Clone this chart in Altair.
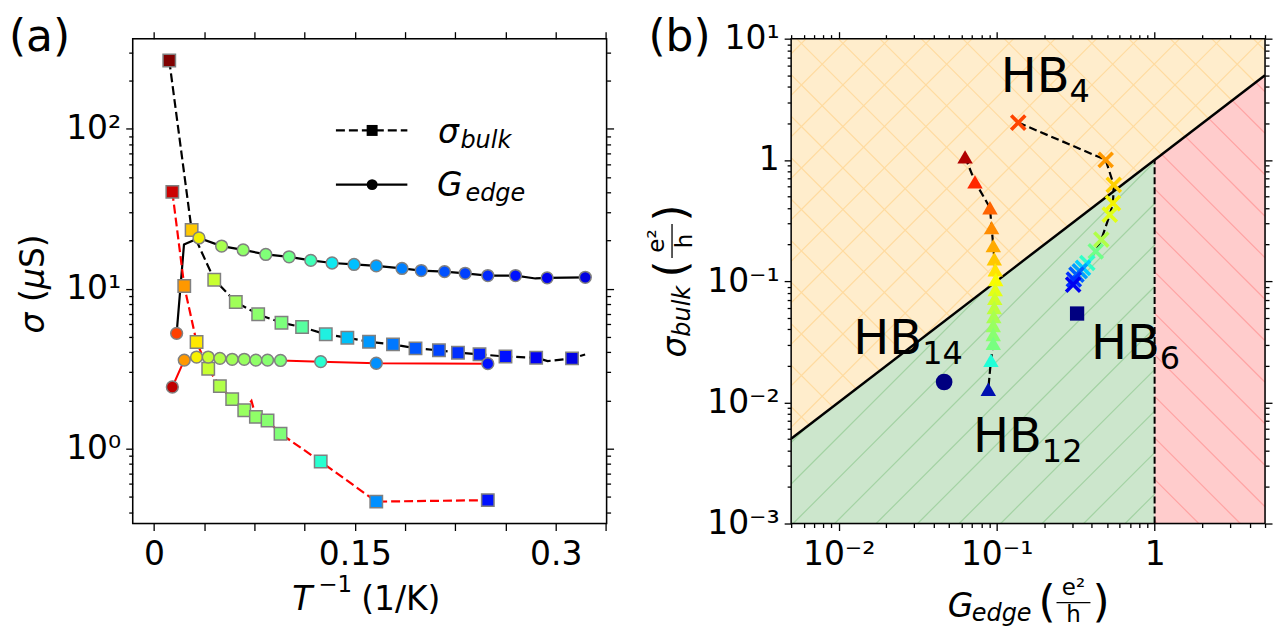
import altair as alt
import numpy as np
import pandas as pd

FONT = "DejaVu Sans"

# ======================= panel (a) data =======================
a_bulk1_x = [0.0114, 0.0281, 0.0450, 0.0611, 0.0778, 0.0952, 0.1106, 0.1283, 0.1444,
             0.1606, 0.1785, 0.1953, 0.2128, 0.2270, 0.2431, 0.2625, 0.2854, 0.3122]
a_bulk1_y = [268.0, 23.3, 11.4, 8.26, 6.92, 6.13, 5.76, 5.19, 4.94,
             4.66, 4.49, 4.24, 4.12, 3.98, 3.89, 3.77, 3.70, 3.67]
a_bulk1_c = ["#800000", "#FFC800", "#C8FF30", "#A0FF58", "#8CFF6C", "#7CFF7C", "#58FFA0", "#20F0E0", "#00C0F8",
             "#0098FF", "#0078FF", "#0058FF", "#0044FF", "#0030FF", "#0020FF", "#0010FF", "#0000F4", "#0000E4"]
a_bulk1_path_x = [0.2940, 0.3220]
a_bulk1_path_y = [3.53, 3.88]

a_edge1_x = [0.0169, 0.0336, 0.0505, 0.0666, 0.0835, 0.1009, 0.1171, 0.1330, 0.1494,
             0.1660, 0.1852, 0.1996, 0.2170, 0.2324, 0.2493, 0.2700, 0.2936, 0.3221]
a_edge1_y = [5.26, 20.8, 18.5, 17.5, 16.4, 15.85, 15.05, 14.5, 14.2,
             13.9, 13.4, 13.0, 12.8, 12.5, 12.1, 12.1, 11.7, 11.8]
a_edge1_c = ["#FF4000", "#F0F000", "#A8FF50", "#90FF68", "#80FF78", "#70FF88", "#40FFB8", "#10E8F0", "#00C0FF",
             "#00A0FF", "#0080FF", "#0068FF", "#0050FF", "#0040FF", "#0028FF", "#0010FF", "#0000F0", "#0000E0"]
a_edge1_path_x = [0.0224, 0.2849]
a_edge1_path_y = [18.9, 11.6]

a_bulk2_x = [0.0137, 0.0226, 0.0318, 0.0405, 0.0492, 0.0584, 0.0674, 0.0761, 0.0848, 0.0945, 0.1245, 0.1660, 0.2493]
a_bulk2_y = [40.4, 10.4, 4.64, 3.16, 2.46, 2.04, 1.74, 1.58, 1.50, 1.24, 0.83, 0.466, 0.476]
a_bulk2_c = ["#CC0000", "#FF9800", "#FFE800", "#C8FF30", "#B0FF48", "#A0FF58", "#98FF60", "#90FF68",
             "#88FF70", "#80FF78", "#28FFD0", "#0090FF", "#0010FF"]
a_bulk2_path_x = [0.0728]
a_bulk2_path_y = [1.99]

a_edge2_x = [0.0137, 0.0226, 0.0318, 0.0405, 0.0492, 0.0584, 0.0674, 0.0761, 0.0848, 0.0945, 0.1245, 0.1660, 0.2493]
a_edge2_y = [2.43, 3.58, 3.74, 3.74, 3.67, 3.62, 3.62, 3.58, 3.58, 3.56, 3.50, 3.42, 3.40]
a_edge2_c = ["#C00000", "#FF9800", "#F8F000", "#C8FF30", "#B0FF48", "#A0FF58", "#98FF60", "#90FF68",
             "#88FF70", "#80FF78", "#28FFD0", "#0090FF", "#0010FF"]

a_xdomain = [-0.0159, 0.338]
a_ydomain = [0.34, 367.0]
a_xticks = [0, 0.0375, 0.075, 0.1125, 0.15, 0.1875, 0.225, 0.2625, 0.3, 0.3375]
a_xlabel_vals = [0, 0.15, 0.3]
a_xlabel_txt = ["0", "0.15", "0.3"]
a_ymajor = [1, 10, 100]
a_ylabel_txt = ["10\u2070", "10\u00b9", "10\u00b2"]
a_yminor = [0.4, 0.5, 0.6, 0.7, 0.8, 0.9, 2, 3, 4, 5, 6, 7, 8, 9,
            20, 30, 40, 50, 60, 70, 80, 90, 200, 300]

# ======================= panel (b) data =======================
b_tri_x = [0.0631, 0.0729, 0.0907, 0.0929, 0.0952, 0.0966, 0.0980, 0.0987, 0.0980,
           0.0973, 0.0966, 0.0959, 0.0952, 0.0952, 0.0952, 0.0920, 0.0885]
b_tri_y = [1.059, 0.659, 0.403, 0.276, 0.196, 0.153, 0.124, 0.103, 0.085,
           0.072, 0.0605, 0.051, 0.043, 0.0363, 0.0306, 0.0222, 0.0128]
b_tri_c = ["#B00000", "#FF2800", "#FF6400", "#FF8C00", "#FFAA00", "#FFC800", "#FFE400", "#F8FC00", "#E4FF14",
           "#D0FF28", "#BCFF3C", "#A8FF50", "#98FF60", "#88FF70", "#78FF80", "#20FFD8", "#0010B0"]

b_cross_x = [0.137, 0.490, 0.551, 0.545, 0.520, 0.460, 0.424, 0.375, 0.352, 0.336, 0.320, 0.308, 0.305]
b_cross_y = [2.03, 1.00, 0.622, 0.440, 0.353, 0.220, 0.176, 0.141, 0.1285, 0.1205, 0.113, 0.103, 0.0935]
b_cross_c = ["#FF4400", "#FF9900", "#FFD000", "#F4F400", "#E0FF18", "#B0FF48", "#70FF88", "#30FFC8",
             "#00D0FF", "#00A0FF", "#0060FF", "#0030FF", "#0000F0"]

b_hb14_x, b_hb14_y = [0.0465], [0.0147]
b_hb6_x, b_hb6_y = [0.323], [0.054]

b_xdomain = [0.005, 5.0]
b_ydomain = [0.001, 10.0]
b_qhe = 1.0                      # G_edge = e^2/h boundary
b_xmajor = [0.01, 0.1, 1.0]
b_xlabel_txt = ["10\u207b\u00b2", "10\u207b\u00b9", "1"]
b_xminor = [0.005, 0.006, 0.007, 0.008, 0.009, 0.02, 0.03, 0.04, 0.05, 0.06, 0.07, 0.08, 0.09,
            0.2, 0.3, 0.4, 0.5, 0.6, 0.7, 0.8, 0.9, 2.0, 3.0, 4.0, 5.0]
b_ymajor = [0.001, 0.01, 0.1, 1.0, 10.0]
b_ylabel_txt = ["10\u207b\u00b3", "10\u207b\u00b2", "10\u207b\u00b9", "1", "10\u00b9"]
b_yminor = [float(f"{m}e{k}") for k in (-3, -2, -1, 0) for m in range(2, 10)]

W, H = 475, 486
LEFT = -124          # left edge of the figure relative to panel (a)
one = pd.DataFrame({"k": [0]})


def make_axis(orient, values, majors=None, label_vals=None, label_txt=None, pad=5):
    kw = dict(orient=orient, values=values, grid=False, domain=False, title=None,
              tickColor="black", tickWidth=1.3, labels=label_vals is not None)
    if majors is None:
        kw["tickSize"] = 7
    else:
        test = " || ".join(f"datum.value == {m!r}" for m in majors)
        kw["tickSize"] = {"condition": {"test": test, "value": 7}, "value": 4}
    if label_vals is not None:
        expr = "''"
        for v, t in zip(label_vals[::-1], label_txt[::-1]):
            expr = f"datum.value == {v!r} ? '{t}' : ({expr})"
        kw.update(labelExpr=expr, labelFont=FONT, labelFontSize=33, labelColor="black",
                  labelPadding=pad, labelOverlap=False, labelFlush=False, labelBound=False)
    return alt.Axis(**kw)


def txt(s, x, y, size, italic=False, align="left", angle=0):
    kw = dict(text=s, font=FONT, fontSize=size, align=align, baseline="alphabetic", color="black")
    if italic:
        kw["fontStyle"] = "italic"
    if angle:
        kw["angle"] = angle
    return alt.Chart(one).mark_text(**kw).encode(x=alt.value(x), y=alt.value(y))


def frame():
    return alt.Chart(one).mark_rect(fillOpacity=0, stroke="black", strokeWidth=1.5).encode(
        x=alt.value(0), x2=alt.value(W), y=alt.value(0), y2=alt.value(H))


# ======================= panel (a) =======================
xs_a = alt.Scale(domain=a_xdomain, nice=False, zero=False)
ys_a = alt.Scale(type="log", domain=a_ydomain, nice=False)
dummy_a = pd.DataFrame({"x": [0.1], "y": [1.0]})

a_layers = []
a_layers.append(alt.Chart(dummy_a).mark_point(opacity=0).encode(
    x=alt.X("x:Q", scale=xs_a, axis=make_axis("bottom", a_xticks, None, a_xlabel_vals, a_xlabel_txt, pad=8)),
    y=alt.Y("y:Q", scale=ys_a, axis=make_axis("left", sorted(a_ymajor + a_yminor), a_ymajor, a_ymajor, a_ylabel_txt, pad=5))))
a_layers.append(alt.Chart(dummy_a).mark_point(opacity=0).encode(
    x=alt.X("x:Q", scale=xs_a, axis=make_axis("top", a_xticks)),
    y=alt.Y("y:Q", scale=ys_a, axis=make_axis("right", sorted(a_ymajor + a_yminor), a_ymajor))))
# invisible anchor fixing the top-left corner of the figure
a_layers.append(alt.Chart(one).mark_rule(opacity=0, strokeWidth=0.01).encode(
    x=alt.value(LEFT), x2=alt.value(LEFT + 1), y=alt.value(-29), y2=alt.value(-28)))


def line_layer(xs, ys, ex, ey, color, dash, width, xs_s, ys_s):
    df = pd.DataFrame({"x": xs + ex, "y": ys + ey})
    kw = dict(color=color, strokeWidth=width)
    if dash:
        kw["strokeDash"] = dash
    return alt.Chart(df).mark_line(**kw).encode(
        x=alt.X("x:Q", scale=xs_s, axis=None), y=alt.Y("y:Q", scale=ys_s, axis=None), order="x:Q")


def marker_layer(xs, ys, cs, shape, size, xs_s, ys_s, stroke=None):
    df = pd.DataFrame({"x": xs, "y": ys, "c": cs})
    kw = dict(shape=shape, size=size, filled=True, opacity=1)
    if stroke:
        kw.update(stroke=stroke, strokeWidth=1.5)
    return alt.Chart(df).mark_point(**kw).encode(
        x=alt.X("x:Q", scale=xs_s, axis=None), y=alt.Y("y:Q", scale=ys_s, axis=None),
        fill=alt.Fill("c:N", scale=None))


def xmark_layer(xs, ys, cs, size, xs_s, ys_s):
    df = pd.DataFrame({"x": xs, "y": ys, "c": cs})
    return alt.Chart(df).mark_point(shape="M-1,-1L1,1M-1,1L1,-1", size=size, filled=False,
                                    strokeWidth=3.6, opacity=1).encode(
        x=alt.X("x:Q", scale=xs_s, axis=None), y=alt.Y("y:Q", scale=ys_s, axis=None),
        stroke=alt.Stroke("c:N", scale=None))


a_layers += [
    line_layer(a_bulk1_x, a_bulk1_y, a_bulk1_path_x, a_bulk1_path_y, "black", [9, 4], 2.2, xs_a, ys_a),
    line_layer(a_edge1_x, a_edge1_y, a_edge1_path_x, a_edge1_path_y, "black", None, 2.2, xs_a, ys_a),
    line_layer(a_bulk2_x, a_bulk2_y, a_bulk2_path_x, a_bulk2_path_y, "#FF0000", [9, 4], 2.2, xs_a, ys_a),
    line_layer(a_edge2_x, a_edge2_y, [], [], "#FF0000", None, 2.0, xs_a, ys_a),
    marker_layer(a_bulk1_x, a_bulk1_y, a_bulk1_c, "square", 155, xs_a, ys_a, stroke="#808080"),
    marker_layer(a_edge1_x, a_edge1_y, a_edge1_c, "circle", 140, xs_a, ys_a, stroke="#808080"),
    marker_layer(a_bulk2_x, a_bulk2_y, a_bulk2_c, "square", 155, xs_a, ys_a, stroke="#808080"),
    marker_layer(a_edge2_x, a_edge2_y, a_edge2_c, "circle", 140, xs_a, ys_a, stroke="#808080"),
]

# legend (drawn by hand)
a_layers += [
    alt.Chart(one).mark_rule(color="black", strokeWidth=2.2, strokeDash=[9, 4]).encode(
        x=alt.value(203.7), x2=alt.value(275.3), y=alt.value(92)),
    alt.Chart(one).mark_point(shape="square", size=121, filled=True, color="black", opacity=1).encode(
        x=alt.value(240), y=alt.value(92)),
    alt.Chart(one).mark_rule(color="black", strokeWidth=2.2).encode(
        x=alt.value(203.7), x2=alt.value(275.3), y=alt.value(146.3)),
    alt.Chart(one).mark_point(shape="circle", size=121, filled=True, color="black", opacity=1).encode(
        x=alt.value(240), y=alt.value(146.3)),
    txt("\u03c3", 306, 104.7, 33, italic=True),
    txt("bulk", 328.5, 109.7, 24, italic=True),
    txt("G", 305, 158, 33, italic=True),
    txt("edge", 333.5, 163, 24, italic=True),
    txt("(a)", LEFT, 12, 44),
    # y title  sigma (mu S)
    txt("\u03c3", -89, 295.5, 33, italic=True, angle=270),
    txt("(", -89, 264, 33, angle=270),
    txt("\u03bc", -89, 251, 33, italic=True, angle=270),
    txt("S)", -89, 230, 33, angle=270),
    # x title  T^-1 (1/K)
    txt("T", 160, 573, 33, italic=True),
    txt("\u22121", 186, 555, 23),
    txt("(1/K)", 229, 573, 33),
    frame(),
]

left = alt.layer(*a_layers).resolve_axis(x="independent", y="independent").properties(width=W, height=H)

# ======================= panel (b) =======================
xs_b = alt.Scale(type="log", domain=b_xdomain, nice=False)
ys_b = alt.Scale(type="log", domain=b_ydomain, nice=False)
LX0, LX1 = np.log10(b_xdomain[0]), np.log10(b_xdomain[1])
LY0, LY1 = np.log10(b_ydomain[0]), np.log10(b_ydomain[1])


def to_uv(x, y):
    return ((np.log10(x) - LX0) / (LX1 - LX0) * W, (LY1 - np.log10(y)) / (LY1 - LY0) * H)


def from_uv(u, v):
    return (10 ** (LX0 + u / W * (LX1 - LX0)), 10 ** (LY1 - v / H * (LY1 - LY0)))


def clip_line(p0, d, poly):
    cx = np.mean([p[0] for p in poly]); cy = np.mean([p[1] for p in poly])
    t0, t1 = -1e9, 1e9
    n = len(poly)
    for i in range(n):
        a = poly[i]; b = poly[(i + 1) % n]
        nx, ny = -(b[1] - a[1]), b[0] - a[0]
        if nx * (cx - a[0]) + ny * (cy - a[1]) < 0:
            nx, ny = -nx, -ny
        num = nx * (p0[0] - a[0]) + ny * (p0[1] - a[1])
        den = nx * d[0] + ny * d[1]
        if abs(den) < 1e-12:
            if num < 0:
                return None
            continue
        t = -num / den
        if den > 0:
            t0 = max(t0, t)
        else:
            t1 = min(t1, t)
    if t1 - t0 < 1e-6:
        return None
    return (p0[0] + t0 * d[0], p0[1] + t0 * d[1]), (p0[0] + t1 * d[0], p0[1] + t1 * d[1])


HATCH = 41.6  # px spacing of the hatching


def hatch_df(poly, family, c_ref):
    rows = []
    if family == "/":
        lo, hi, d = 0, W + H, (1, -1)
    else:
        lo, hi, d = -W, H, (1, 1)
    k0 = int(np.floor((lo - c_ref) / HATCH)) - 1
    k1 = int(np.ceil((hi - c_ref) / HATCH)) + 1
    for k in range(k0, k1 + 1):
        c = c_ref + k * HATCH
        seg = clip_line((0, c), d, poly)
        if seg is None:
            continue
        (u0, v0), (u1, v1) = seg
        x0, y0 = from_uv(u0, v0); x1, y1 = from_uv(u1, v1)
        rows.append({"x": x0, "y": y0, "x2": x1, "y2": y1})
    return pd.DataFrame(rows)


ud0 = to_uv(b_xdomain[0], b_xdomain[0])
udW = to_uv(b_xdomain[1], b_xdomain[1])
ud1 = to_uv(b_qhe, b_qhe)
poly_orange = [ud0, udW, (W, 0), (0, 0)]
poly_green = [ud0, ud1, (ud1[0], H), (0, H)]
poly_red = [ud1, udW, (W, H), (ud1[0], H)]


def hatch_layer(df, color):
    return alt.Chart(df).mark_rule(color=color, strokeWidth=1.2, clip=True).encode(
        x=alt.X("x:Q", scale=xs_b, axis=None), y=alt.Y("y:Q", scale=ys_b, axis=None),
        x2="x2:Q", y2="y2:Q")


def area_layer(xs, y_lo, y_hi, color):
    df = pd.DataFrame({"x": xs, "lo": y_lo, "hi": y_hi})
    return alt.Chart(df).mark_area(color=color, opacity=1).encode(
        x=alt.X("x:Q", scale=xs_b, axis=None), y=alt.Y("lo:Q", scale=ys_b, axis=None), y2="hi:Q")


dummy_b = pd.DataFrame({"x": [0.1], "y": [0.1]})
b_layers = [
    alt.Chart(dummy_b).mark_point(opacity=0).encode(
        x=alt.X("x:Q", scale=xs_b, axis=make_axis("bottom", sorted(b_xmajor + b_xminor), b_xmajor, b_xmajor, b_xlabel_txt, pad=8)),
        y=alt.Y("y:Q", scale=ys_b, axis=make_axis("left", sorted(b_ymajor + b_yminor), b_ymajor, b_ymajor, b_ylabel_txt, pad=5))),
    alt.Chart(dummy_b).mark_point(opacity=0).encode(
        x=alt.X("x:Q", scale=xs_b, axis=make_axis("top", sorted(b_xmajor + b_xminor), b_xmajor)),
        y=alt.Y("y:Q", scale=ys_b, axis=make_axis("right", sorted(b_ymajor + b_yminor), b_ymajor))),
    area_layer(b_xdomain, b_xdomain, [b_ydomain[1], b_ydomain[1]], "#FFEDCC"),
    area_layer([b_xdomain[0], b_qhe], [b_ydomain[0], b_ydomain[0]], [b_xdomain[0], b_qhe], "#CCE6CC"),
    area_layer([b_qhe, b_xdomain[1]], [b_ydomain[0], b_ydomain[0]], [b_qhe, b_xdomain[1]], "#FFCCCC"),
    hatch_layer(hatch_df(poly_orange, "/", 264.7), "#FFDBA0"),
    hatch_layer(hatch_df(poly_orange, "\\", 244.1), "#FFDBA0"),
    hatch_layer(hatch_df(poly_green, "/", 2 + H), "#A3D2A3"),
    hatch_layer(hatch_df(poly_red, "\\", H - 367), "#FFA3A3"),
    alt.Chart(pd.DataFrame({"x": b_xdomain, "y": b_xdomain})).mark_line(color="black", strokeWidth=2.5).encode(
        x=alt.X("x:Q", scale=xs_b, axis=None), y=alt.Y("y:Q", scale=ys_b, axis=None)),
    alt.Chart(pd.DataFrame({"x": [b_qhe], "y": [b_ydomain[0]], "y2": [b_qhe]})).mark_rule(
        color="black", strokeWidth=2, strokeDash=[7, 3]).encode(
        x=alt.X("x:Q", scale=xs_b, axis=None), y=alt.Y("y:Q", scale=ys_b, axis=None), y2="y2:Q"),
]


def path_layer(xs, ys):
    df = pd.DataFrame({"x": xs, "y": ys, "i": list(range(len(xs)))})
    return alt.Chart(df).mark_line(color="black", strokeWidth=2.2, strokeDash=[8, 4]).encode(
        x=alt.X("x:Q", scale=xs_b, axis=None), y=alt.Y("y:Q", scale=ys_b, axis=None), order="i:Q")


b_layers += [
    path_layer(b_tri_x, b_tri_y),
    path_layer(b_cross_x, b_cross_y),
    marker_layer(b_tri_x, b_tri_y, b_tri_c, "triangle-up", 240, xs_b, ys_b),
    xmark_layer(b_cross_x, b_cross_y, b_cross_c, 200, xs_b, ys_b),
    marker_layer(b_hb14_x, b_hb14_y, ["#000080"], "circle", 280, xs_b, ys_b),
    marker_layer(b_hb6_x, b_hb6_y, ["#000080"], "square", 205, xs_b, ys_b),
    txt("HB", 210, 53, 48), txt("4", 279, 63, 32),
    txt("HB", 62.3, 316.3, 48), txt("14", 131.3, 326.3, 32),
    txt("HB", 300.6, 321.3, 48), txt("6", 369.6, 331.3, 32),
    txt("HB", 182.3, 414.7, 48), txt("12", 251.3, 424.7, 32),
    txt("(b)", -143, 12, 44),
    # x title  G_edge (e^2/h)
    txt("G", 157, 579.7, 33, italic=True),
    txt("edge", 181, 583.5, 24, italic=True),
    txt("(", 248, 580, 44),
    txt("e\u00b2", 283, 558, 23, align="center"),
    alt.Chart(one).mark_rule(color="black", strokeWidth=1.3).encode(
        x=alt.value(266), x2=alt.value(300), y=alt.value(565.3)),
    txt("h", 283, 585, 23, align="center"),
    txt(")", 302, 580, 44),
    # y title  sigma_bulk (e^2/h)
    txt("\u03c3", -105, 319.7, 33, italic=True, angle=270),
    txt("bulk", -101, 298.7, 24, italic=True, angle=270),
    txt("(", -105, 239.3, 44, angle=270),
    txt("e\u00b2", -127, 202.8, 23, align="center", angle=270),
    alt.Chart(one).mark_rule(color="black", strokeWidth=1.3).encode(
        x=alt.value(-119.4), y=alt.value(185.8), y2=alt.value(219.8)),
    txt("h", -99.5, 202.8, 23, align="center", angle=270),
    txt(")", -105, 183.3, 44, angle=270),
    frame(),
]

right = alt.layer(*b_layers).resolve_axis(x="independent", y="independent").properties(width=W, height=H)

chart = alt.hconcat(left, right, spacing=185, bounds="flush").properties(
    padding={"left": 0, "top": 0, "right": 0, "bottom": 0}
).configure_view(strokeWidth=0).configure(font=FONT)

chart.save("out.html", embed_options={"renderer": "svg", "actions": False})
